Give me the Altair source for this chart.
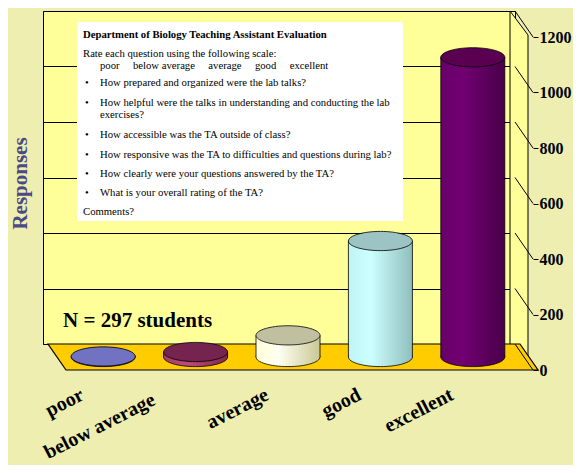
import altair as alt
import pandas as pd

# ---------------- data ----------------
categories = ["poor", "below average", "average", "good", "excellent"]
responses = [2, 18, 78, 418, 1080]
tick_values = [0, 200, 400, 600, 800, 1000, 1200]

box_title = "Department of Biology Teaching Assistant Evaluation"
box_intro = "Rate each question using the following scale:"
scale_words = ["poor", "below average", "average", "good", "excellent"]
questions = [
    ["How prepared and organized were the lab talks?"],
    ["How helpful were the talks in understanding and conducting the lab", "exercises?"],
    ["How accessible was the TA outside of class?"],
    ["How responsive was the TA to difficulties and questions during lab?"],
    ["How clearly were your questions answered by the TA?"],
    ["What is your overall rating of the TA?"],
]
comments = "Comments?"
n_note = "N = 297 students"
y_title = "Responses"

# ---------------- styles ----------------
SERIF = "Liberation Serif"
BG = "#EEEEB0"
WALL = "#FFFF99"
FLOOR = "#FFCC00"
cap_colors = ["#7272C2", "#74244F", "#C0C0A0", "#9CC4C4", "#5A0050"]
side_colors = [
    ["#5858A8", "#6A6AB8", "#4A4A90"],
    ["#A83A66", "#C04A78", "#80284E"],
    ["#FFFFD8", "#FFFFF2", "#C8C898"],
    ["#C0F4F4", "#CCFFFF", "#90BEBE"],
    ["#680068", "#720072", "#48004A"],
]

W, H = 472, 333          # back wall (plot area)
DX, DY = 18, 26          # depth offset of the front plane
BW = 64                  # cylinder diameter
HX, HY = DX / 2, DY / 2  # cylinders stand at mid depth
BOX_FS = 10.7

df = pd.DataFrame({"cat": categories, "idx": list(range(len(categories))), "val": responses})
ticks_df = pd.DataFrame({"v": tick_values})
one = pd.DataFrame({"a": [0]})

xs = alt.Scale(domain=[-0.5, len(categories) - 0.5], nice=False, zero=False)
ys = alt.Scale(domain=[0, 1200], nice=False, zero=True)
X = alt.X("idx:Q", scale=xs, axis=None)

ELL = ("M-1,0 C-1,-0.1657 -0.5523,-0.3 0,-0.3 C0.5523,-0.3 1,-0.1657 1,0 "
       "C1,0.1657 0.5523,0.3 0,0.3 C-0.5523,0.3 -1,0.1657 -1,0 Z")


def grad(cols):
    return {"gradient": "linear", "x1": 0, "y1": 0, "x2": 1, "y2": 0,
            "stops": [{"offset": 0, "color": cols[0]},
                      {"offset": 0.35, "color": cols[1]},
                      {"offset": 1, "color": cols[2]}]}


layers = []

# hidden layer carrying the left axis (grid + title)
layers.append(
    alt.Chart(ticks_df).mark_rule(opacity=0).encode(
        y=alt.Y("v:Q", scale=ys, axis=alt.Axis(
            orient="left", values=tick_values, grid=True, gridColor="black",
            gridWidth=1, gridOpacity=1, domain=False, ticks=False, labels=False,
            title=y_title, titleFont=SERIF, titleFontSize=21, titleFontWeight="bold",
            titleColor="#4A4A85", titleX=-23, titleY=172, titleAngle=270,
            titleAlign="center", titleBaseline="middle")))
)

# right side wall
side_path = f"M0,0 L0,{-H} L{DX},{-H + DY - 2} L{DX},{DY} Z"
layers.append(
    alt.Chart(one).mark_point(shape=side_path, size=4, filled=True, fill=WALL,
                              stroke="black", strokeWidth=1, opacity=1).encode(
        x=alt.XDatum(len(categories) - 0.5, type="quantitative", scale=xs, axis=None),
        y=alt.YDatum(0, type="quantitative", scale=ys, axis=None))
)

# floor
floor_path = f"M0,0 L{W},0 L{W + DX},{DY} L{DX},{DY} Z"
layers.append(
    alt.Chart(one).mark_point(shape=floor_path, size=4, filled=True, fill=FLOOR,
                              stroke="black", strokeWidth=1.2, opacity=1).encode(
        x=alt.XDatum(-0.5, type="quantitative", scale=xs, axis=None),
        y=alt.YDatum(0, type="quantitative", scale=ys, axis=None))
)

# diagonal lines from the back wall to the right axis ticks (+ right axis)
layers.append(
    alt.Chart(ticks_df).mark_rule(color="black", strokeWidth=1, y2Offset=DY).encode(
        x=alt.value(W), x2=alt.value(W + DX),
        y=alt.Y("v:Q", scale=ys, axis=alt.Axis(
            orient="right", offset=DX, tickOffset=DY, values=tick_values, format="d",
            grid=False, domain=False, ticks=True, tickSize=5, tickColor="black",
            tickWidth=1, labelFont=SERIF, labelFontSize=16, labelFontWeight="bold",
            labelColor="black", labelPadding=1, labelFlush=False,
            labelOverlap=False, title=None)),
        y2="v:Q")
)

# text box
layers.append(
    alt.Chart(one).mark_rect(fill="white").encode(
        x=alt.value(34), x2=alt.value(360), y=alt.value(11), y2=alt.value(210))
)


def txt(t, x, y, size=BOX_FS, weight="normal", color="black", **kw):
    return alt.Chart(one).mark_text(text=t, align="left", baseline="alphabetic",
                                    font=SERIF, fontSize=size, fontWeight=weight,
                                    color=color, **kw).encode(
        x=alt.value(x), y=alt.value(y))


layers.append(txt(box_title, 40, 27, weight="bold"))
layers.append(txt(box_intro, 40, 46))
layers.append(txt(("\u00a0" * 5).join(scale_words), 57, 58))
q_y = [75, 95, 127, 147, 166, 185]
for q, yy in zip(questions, q_y):
    layers.append(txt("\u2022", 42, yy))
    layers.append(txt(q if len(q) > 1 else q[0], 57, yy, lineHeight=12))
layers.append(txt(comments, 40, 204))

# N note
layers.append(txt(n_note, 20, 316, size=21, weight="bold"))

# cylinders
for i, c in enumerate(categories):
    g = grad(side_colors[i])
    base = alt.Chart(df).transform_filter(alt.datum.cat == c)
    layers.append(
        base.mark_point(shape=ELL, size=BW * BW, filled=True, fill=g, stroke="black",
                        strokeWidth=0.8, opacity=1, xOffset=HX, yOffset=HY).encode(
            x=X, y=alt.YDatum(0, type="quantitative", scale=ys, axis=None))
    )
    layers.append(
        base.mark_bar(size=BW, fill=g, orient="vertical", xOffset=HX, yOffset=HY,
                      y2Offset=HY).encode(
            x=X, y=alt.Y("val:Q", scale=ys, axis=None),
            y2=alt.Y2Datum(0))
    )

for side in (-BW / 2, BW / 2):
    layers.append(
        alt.Chart(df).mark_rule(color="black", strokeWidth=0.8, xOffset=HX + side,
                                yOffset=HY, y2Offset=HY).encode(
            x=X, y=alt.Y("val:Q", scale=ys, axis=None), y2=alt.Y2Datum(0))
    )

layers.append(
    alt.Chart(df).mark_point(shape=ELL, size=BW * BW, filled=True, stroke="black",
                             strokeWidth=0.8, opacity=1, xOffset=HX, yOffset=HY).encode(
        x=X, y=alt.Y("val:Q", scale=ys, axis=None),
        fill=alt.Fill("cat:N", scale=alt.Scale(domain=categories, range=cap_colors),
                      legend=None))
)

# category labels (rotated, staggered like the original)
lab_style = dict(align="right", baseline="alphabetic", angle=333, font=SERIF,
                 fontSize=20, fontWeight="bold", color="black")
layers.append(
    alt.Chart(df).transform_filter(alt.datum.cat != "below average")
    .mark_text(xOffset=-9, **lab_style).encode(x=X, y=alt.value(388), text="cat:N")
)
layers.append(
    alt.Chart(df).transform_filter(alt.datum.cat == "below average")
    .mark_text(xOffset=-30, **lab_style).encode(x=X, y=alt.value(393), text="cat:N")
)

chart = alt.layer(*layers).resolve_axis(y="independent").properties(
    width=W, height=H,
    background=BG,
    padding={"left": 35, "top": 3, "right": 565 - 35 - W, "bottom": 457 - 3 - H},
    autosize=alt.AutoSizeParams(type="none"),
).configure_view(fill=WALL, stroke="black", strokeWidth=1)

chart.save("out.html", embed_options={"renderer": "svg", "actions": False})
